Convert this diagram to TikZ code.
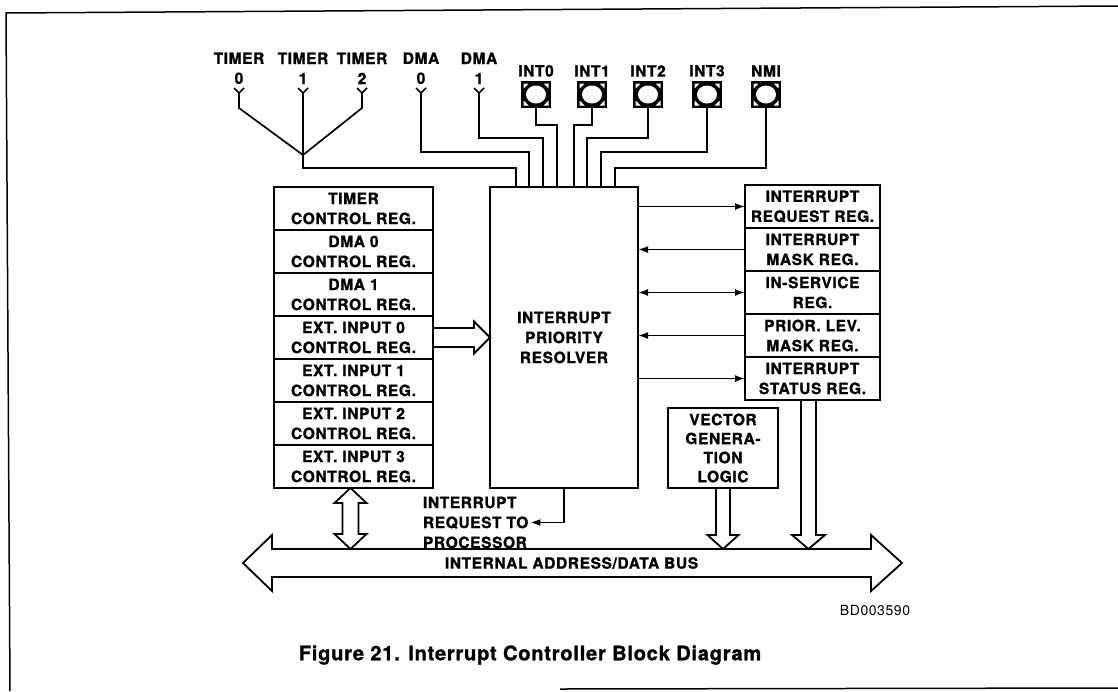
\documentclass[tikz,border=0pt]{standalone}
\usepackage{fontspec}
\setmainfont{TeX Gyre Heros}[LetterSpace=4,BoldFeatures={FakeBold=1.2}]
\usetikzlibrary{arrows.meta,positioning,calc}
\begin{document}
\begin{tikzpicture}[x=1pt,y=-1pt,
  lbl/.style={font=\fontsize{15.5}{20}\selectfont\bfseries,align=center,inner sep=0pt,outer sep=0pt},
  lreg/.style={lbl,draw,line width=2.2pt,minimum width=159pt,minimum height=43pt},
  rreg/.style={lreg,minimum width=135pt},
  wire/.style={line width=1.7pt},
  arr/.style={wire,-{Latex[length=10pt,width=7pt]}},
  fat/.style={line width=1.8pt,line join=miter},
  pad/.style={draw,line width=2.8pt,fill=black,minimum width=28pt,minimum height=25pt,inner sep=0pt,
    path picture={
      \fill[white] (path picture bounding box.center) ellipse (10pt and 9pt);
      \fill[white] ($(path picture bounding box.north west)+(1.5pt,-1.5pt)$) -- ++(5pt,0pt) -- ++(-5pt,-5pt) -- cycle;
      \fill[white] ($(path picture bounding box.north east)+(-1.5pt,-1.5pt)$) -- ++(-5pt,0pt) -- ++(5pt,-5pt) -- cycle;
      \fill[white] ($(path picture bounding box.south west)+(1.5pt,1.5pt)$) -- ++(5pt,0pt) -- ++(-5pt,5pt) -- cycle;
      \fill[white] ($(path picture bounding box.south east)+(-1.5pt,1.5pt)$) -- ++(-5pt,0pt) -- ++(5pt,5pt) -- cycle;
    }}]
\useasboundingbox (0,0) rectangle (1118,691);
\draw[line width=1.5pt] (1118,6) -- (6,13) -- (10,691);
\draw[line width=1.5pt] (560,689) -- (1118,688);

\node[lbl,anchor=south] (lt0) at (239,84) {TIMER\\0};
\node[lbl,anchor=south] (lt1) at (303,84) {TIMER\\1};
\node[lbl,anchor=south] (lt2) at (362,84) {TIMER\\2};
\node[lbl,anchor=south] (ld0) at (421,84) {DMA\\0};
\node[lbl,anchor=south] (ld1) at (479,84) {DMA\\1};
\foreach \n/\x in {t0/239,t1/303,t2/362,d0/421,d1/479}{
  \coordinate (\n) at (\x,93);
  \draw[wire] (\x-5,88) -- (\n) -- (\x+5,88);
}
\foreach \n/\x/\t in {p0/536/INT0,p1/592/INT1,p2/648/INT2,p3/707/INT3,p4/766/NMI}{
  \node[pad] (\n) at (\x,94.5) {};
  \node[lbl,above=4pt of \n] (l\n) {\t};
}

\node[lbl,draw,line width=2.2pt,minimum width=148pt,minimum height=301pt] (res) at (564,337.5) {INTERRUPT\\PRIORITY\\RESOLVER};

\node[lreg] (l1) at (353.5,208.5) {TIMER\\CONTROL REG.};
\node[lreg,below=0pt of l1] (l2) {DMA 0\\CONTROL REG.};
\node[lreg,below=0pt of l2] (l3) {DMA 1\\CONTROL REG.};
\node[lreg,below=0pt of l3] (l4) {EXT. INPUT 0\\CONTROL REG.};
\node[lreg,below=0pt of l4] (l5) {EXT. INPUT 1\\CONTROL REG.};
\node[lreg,below=0pt of l5] (l6) {EXT. INPUT 2\\CONTROL REG.};
\node[lreg,below=0pt of l6] (l7) {EXT. INPUT 3\\CONTROL REG.};

\node[rreg] (r1) at (812.5,206.5) {INTERRUPT\\REQUEST REG.};
\node[rreg,below=0pt of r1] (r2) {INTERRUPT\\MASK REG.};
\node[rreg,below=0pt of r2] (r3) {IN-SERVICE\\REG.};
\node[rreg,below=0pt of r3] (r4) {PRIOR. LEV.\\MASK REG.};
\node[rreg,below=0pt of r4] (r5) {INTERRUPT\\STATUS REG.};

\node[lbl,draw,line width=2.2pt,minimum width=110pt,minimum height=80pt,font=\fontsize{15.5}{19}\selectfont\bfseries] (vec) at (723,448) {VECTOR\\GENERA-\\TION\\LOGIC};
\node[lbl,align=left,anchor=west] (irq) at (423,522.5) {INTERRUPT\\REQUEST TO\\PROCESSOR};
\node[lbl,minimum width=599pt,minimum height=28pt] (bus) at (571.5,563) {INTERNAL ADDRESS/DATA BUS};
\node[font=\fontsize{14}{16}\selectfont,inner sep=0pt] (bd) at (875,610) {BD003590};
\node[font=\fontsize{20}{24}\selectfont\bfseries,inner sep=0pt] (cap) at (530,655) {Figure 21. Interrupt Controller Block Diagram};

\coordinate (fan) at (303,155);
\draw[wire] (t0) -- ++(0,15) -- (fan);
\draw[wire] (t2) -- ++(0,15) -- (fan);
\draw[wire] (t1) |- (516,168) -- (516,168 |- res.north);
\draw[wire] (d0) |- (529,152) -- (529,152 |- res.north);
\draw[wire] (d1) |- (543,138) -- (543,138 |- res.north);
\draw[wire] (p0) |- (557,125) -- (557,125 |- res.north);
\draw[wire] (p1) |- (574,125) -- (574,125 |- res.north);
\draw[wire] (p2) |- (587,138) -- (587,138 |- res.north);
\draw[wire] (p3) |- (601,152) -- (601,152 |- res.north);
\draw[wire] (p4) |- (615,168) -- (615,168 |- res.north);

\draw[arr] (res.east |- r1) -- (r1.west);
\draw[arr] (r2.west) -- (res.east |- r2);
\draw[wire,{Latex[length=10pt,width=7pt]}-{Latex[length=10pt,width=7pt]}] (res.east |- r3) -- (r3.west);
\draw[arr] (r4.west) -- (res.east |- r4);
\draw[arr] (res.east |- r5) -- (r5.west);
\draw[arr,shorten >=2pt] (res.south) |- (irq.east);

\coordinate (ta) at (res.west |- l4.east);
\draw[fat] ($(l4.east)+(0,-9.5)$) -- ($(ta)+(-16,-9.5)$) -- ++(0,-6.5) -- (ta) -- ++(-16,16) -- ++(0,-6.5) -- ($(l4.east)+(0,9.5)$);

\coordinate (ua) at ([xshift=-3pt]l7.south);
\coordinate (ub) at (ua |- bus.north);
\draw[fat] (ua) -- ++(16,15) -- ++(-8,0) -- ($(ub)+(8,-15)$) -- ++(8,0) -- (ub) -- ++(-16,-15) -- ++(8,0) -- ($(ua)+(-8,15)$) -- ++(-8,0) -- cycle;

\coordinate (va) at (vec.south);
\coordinate (vb) at (va |- bus.north);
\draw[fat] ($(va)+(-7,0)$) -- ($(vb)+(-7,-14)$) -- ++(-8.5,0) -- (vb) -- ++(15.5,-14) -- ++(-8.5,0) -- ($(va)+(7,0)$);

\coordinate (sa) at ([xshift=-4pt]r5.south);
\coordinate (sb) at (sa |- bus.north);
\draw[fat] ($(sa)+(-7.5,0)$) -- ($(sb)+(-7.5,-14)$) -- ++(-9,0) -- (sb) -- ++(16.5,-14) -- ++(-9,0) -- ($(sa)+(7.5,0)$);

\draw[fat] (bus.north west) -- (bus.north east) -- ++(0,-14) -- ($(bus.east)+(31,0)$) -- ($(bus.south east)+(0,14)$) -- (bus.south east) -- (bus.south west) -- ++(0,14) -- ($(bus.west)+(-29,0)$) -- ($(bus.north west)+(0,-14)$) -- cycle;
\end{tikzpicture}
\end{document}
